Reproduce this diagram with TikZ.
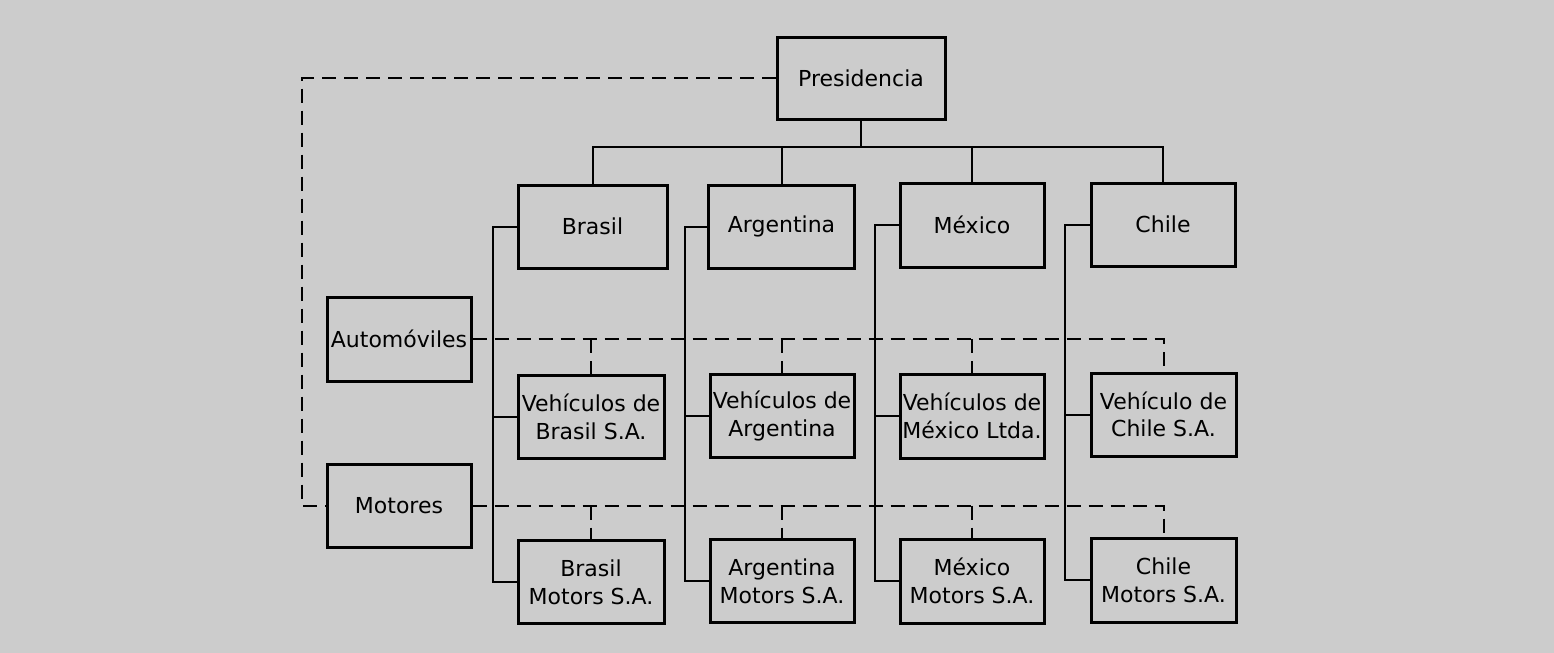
\documentclass[tikz,border=0pt]{standalone}
\usepackage{fontspec}
\setmainfont{DejaVu Sans}
\begin{document}
\begin{tikzpicture}[x=0.5pt,y=-0.5pt,
  box/.style={draw=black,line width=1.5pt,minimum width=73pt,minimum height=41.5pt,inner sep=0pt,align=center,
    font=\fontsize{11}{13.8}\selectfont},
  solidline/.style={draw=black,line width=1pt},
  dashline/.style={draw=black,line width=1pt,dash pattern=on 7pt off 4pt}]
\fill[black!20] (0,0) rectangle (1554,653);
\useasboundingbox (0,0) rectangle (1554,653);
% nodes
\node[box,minimum width=84pt,minimum height=41pt] (pres) at (861,78) {Presidencia};
\node[box,minimum width=74.5pt] (brasil) at (592.5,226.5) {Brasil};
\node[box] (argentina) at (781.5,226.5) {Argentina};
\node[box,minimum width=72pt,minimum height=42pt] (mexico) at (972,225) {México};
\node[box,minimum width=72pt] (chile) at (1163,224.5) {Chile};
\node[box,minimum width=72pt,minimum height=42pt] (auto) at (399,339) {Automóviles};
\node[box,minimum width=72pt] (motores) at (399,505.5) {Motores};
\node[box] (vb) at (591,417) {Vehículos de\\Brasil S.A.};
\node[box,minimum width=72pt] (va) at (782,416) {Vehículos de\\Argentina};
\node[box,minimum width=72pt,minimum height=42pt] (vm) at (972,416) {Vehículos de\\México Ltda.};
\node[box,minimum width=72.5pt] (vc) at (1163.5,414.5) {Vehículo de\\Chile S.A.};
\node[box] (mb) at (591,582) {Brasil\\Motors S.A.};
\node[box,minimum width=72pt] (ma) at (782,581) {Argentina\\Motors S.A.};
\node[box,minimum width=72pt,minimum height=42pt] (mm) at (972,581) {México\\Motors S.A.};
\node[box,minimum width=72.5pt,minimum height=42pt] (mc) at (1163.5,580) {Chile\\Motors S.A.};
% coordinates
\coordinate (bar) at (0,147);
\coordinate (sb) at (493,0);
\coordinate (sa) at (685,0);
\coordinate (sm) at (875,0);
\coordinate (sc) at (1065,0);
\coordinate (lx) at (302,0);
% hierarchy
\draw[solidline] (pres.south) -- (pres.south |- bar);
\draw[solidline] (brasil.north) -- (brasil.north |- bar) -- (chile.north |- bar) -- (chile.north);
\draw[solidline] (argentina.north) -- (argentina.north |- bar);
\draw[solidline] (mexico.north) -- (mexico.north |- bar);
% spines
\draw[solidline] (brasil.west) -| (sb |- mb.west) -- (mb.west);
\draw[solidline] (sb |- vb.west) -- (vb.west);
\draw[solidline] (argentina.west) -| (sa |- ma.west) -- (ma.west);
\draw[solidline] (sa |- va.west) -- (va.west);
\draw[solidline] (mexico.west) -| (sm |- mm.west) -- (mm.west);
\draw[solidline] (sm |- vm.west) -- (vm.west);
\draw[solidline] (chile.west) -| (sc |- mc.west) -- (mc.west);
\draw[solidline] (sc |- vc.west) -- (vc.west);
% dashed: automoviles
\draw[dashline] (auto.east) -- (auto.east -| vc.north) -- (vc.north);
\draw[dashline] (vb.north |- auto.east) -- (vb.north);
\draw[dashline] (va.north |- auto.east) -- (va.north);
\draw[dashline] (vm.north |- auto.east) -- (vm.north);
% dashed: motores
\draw[dashline] (motores.east) -- (motores.east -| mc.north) -- (mc.north);
\draw[dashline] (mb.north |- motores.east) -- (mb.north);
\draw[dashline] (ma.north |- motores.east) -- (ma.north);
\draw[dashline] (mm.north |- motores.east) -- (mm.north);
% dashed: presidencia to motores
\draw[dashline] (pres.west) -| (lx |- motores.west) -- (motores.west);
\end{tikzpicture}
\end{document}
